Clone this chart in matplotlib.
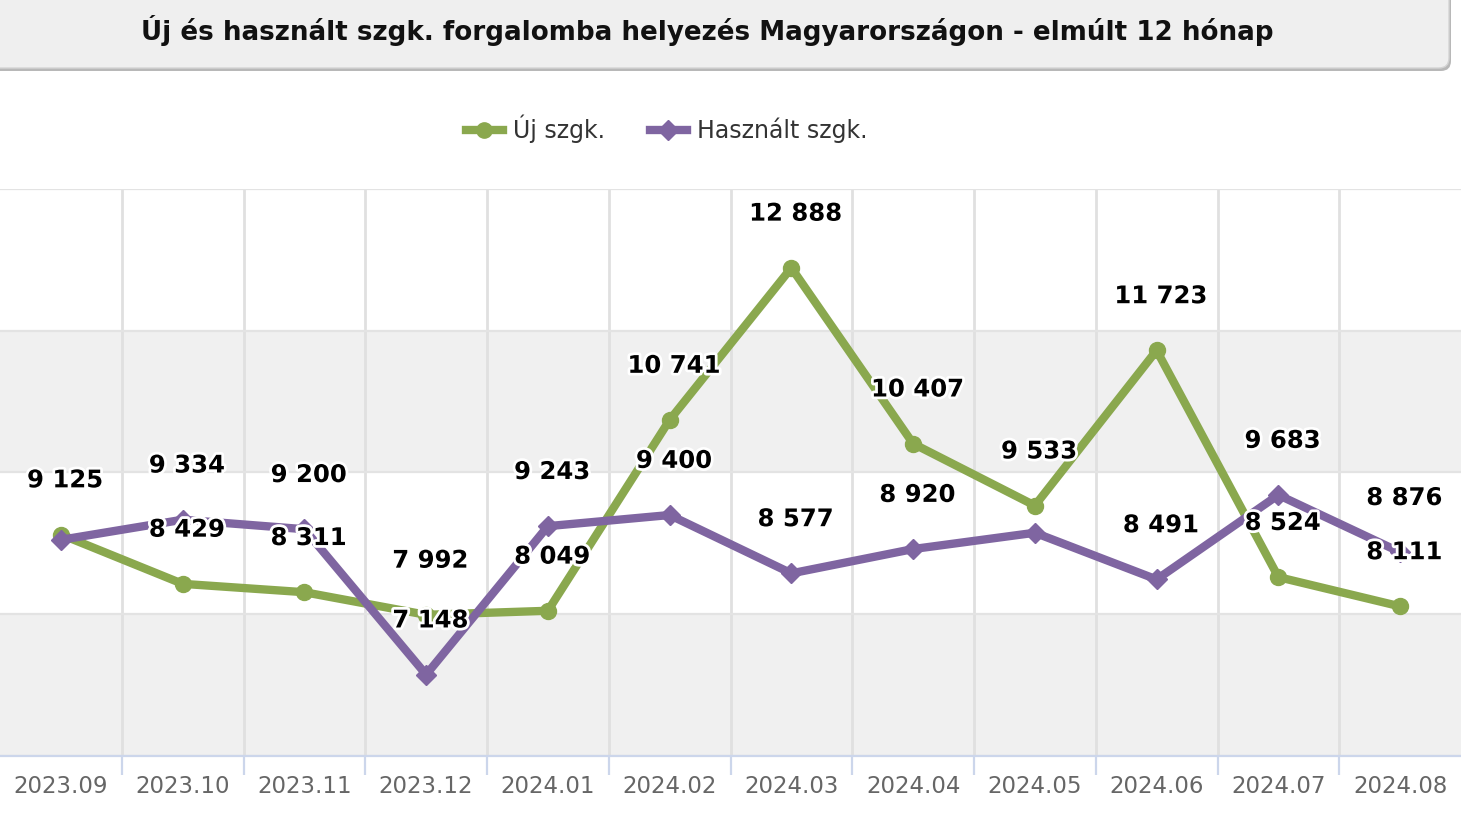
import numpy as np
import matplotlib.pyplot as plt
import matplotlib.patheffects as pe
from matplotlib.patches import FancyBboxPatch
from matplotlib.lines import Line2D

# =========================
# Data
# =========================
months = ["2023.09", "2023.10", "2023.11", "2023.12", "2024.01", "2024.02",
          "2024.03", "2024.04", "2024.05", "2024.06", "2024.07", "2024.08"]
uj = [9125, 8429, 8311, 7992, 8049, 10741, 12888, 10407, 9533, 11723, 8524, 8111]
hasznalt = [9050, 9334, 9200, 7148, 9243, 9400, 8577, 8920, 9150, 8491, 9683, 8876]

title = "Új és használt szgk. forgalomba helyezés Magyarországon - elmúlt 12 hónap"
GREEN = "#8aa84e"
PURPLE = "#7f65a1"

W, H = 1461, 814
fig = plt.figure(figsize=(W / 100, H / 100), dpi=100)
fig.patch.set_facecolor("white")

# =========================
# Title box
# =========================
shadow = FancyBboxPatch((-20 + 2, H - 68 - 3), 1469, 88,
                        boxstyle="round,pad=0,rounding_size=10",
                        transform=None, facecolor="#9a9a9a", edgecolor="none",
                        alpha=0.7, zorder=1)
box = FancyBboxPatch((-20, H - 68), 1469, 88,
                     boxstyle="round,pad=0,rounding_size=10",
                     transform=None, facecolor="#efefef", edgecolor="#d4d4d4",
                     lw=1, zorder=2)
fig.patches.extend([shadow, box])
t = fig.text(707 / W, 1 - 31 / H, title, ha="center", va="center",
             fontsize=16, fontweight="bold", color="#111111", zorder=3)
fig.canvas.draw()
tw = t.get_window_extent().width
t.set_fontsize(16 * 1130 / tw)

# =========================
# Plot area
# =========================
ax = fig.add_axes([0, 58 / H, 1, 567 / H])
x = np.arange(len(months))
ax.set_xlim(-0.5, len(months) - 0.5)
ax.set_ylim(6000, 14000)
ax.set_axisbelow(True)

for lo, hi in [(6000, 8000), (10000, 12000)]:
    ax.axhspan(lo, hi, color="#f0f0f0", lw=0, zorder=0)

ax.set_yticks([6000, 8000, 10000, 12000, 14000])
ax.yaxis.grid(True, color="#e3e3e3", lw=1.6)
ax.tick_params(axis="y", left=False, labelleft=False)

ax.set_xticks(x)
ax.set_xticklabels(months, fontsize=16.5, color="#666666")
ax.set_xticks(np.arange(0.5, len(months) - 0.5, 1), minor=True)
ax.tick_params(axis="x", which="major", length=0, pad=14)
ax.tick_params(axis="x", which="minor", length=14, width=1.6, color="#ccd6eb")
ax.xaxis.grid(True, which="minor", color="#e0e0e0", lw=2)
ax.xaxis.grid(False, which="major")

for s in ["top", "left", "right"]:
    ax.spines[s].set_visible(False)
ax.spines["bottom"].set_color("#ccd6eb")
ax.spines["bottom"].set_linewidth(1.6)

ax.plot(x, uj, color=GREEN, lw=6, marker="o", ms=11.5, zorder=3, clip_on=False)
ax.plot(x, hasznalt, color=PURPLE, lw=6, marker="D", ms=10, zorder=4, clip_on=False)

# =========================
# Data labels (hide overlapping ones, like the original)
# =========================
placed = []
for vals in [uj, hasznalt]:
    for xi, v in zip(x, vals):
        py = ax.transData.transform((xi, v))[1]
        if any(px == xi and abs(py - qy) < 34 for px, qy in placed):
            continue
        placed.append((xi, py))
        ax.annotate(f"{v:,}".replace(",", " "), (xi, v), xytext=(3, 39),
                    textcoords="offset points", ha="center", va="center",
                    fontsize=17.5, fontweight="bold", color="black",
                    path_effects=[pe.withStroke(linewidth=4, foreground="white")],
                    zorder=6, annotation_clip=False)

# =========================
# Legend
# =========================
handles = [Line2D([], [], color=GREEN, lw=6, marker="o", ms=11),
           Line2D([], [], color=PURPLE, lw=6, marker="D", ms=10)]
fig.legend(handles, ["Új szgk.", "Használt szgk."], loc="center",
           bbox_to_anchor=(667 / W, 1 - 129 / H), ncol=2, frameon=False,
           fontsize=17, handlelength=1.55, handletextpad=0.45,
           columnspacing=1.9, labelcolor="#333333")

fig.savefig("out.png", dpi=100)
